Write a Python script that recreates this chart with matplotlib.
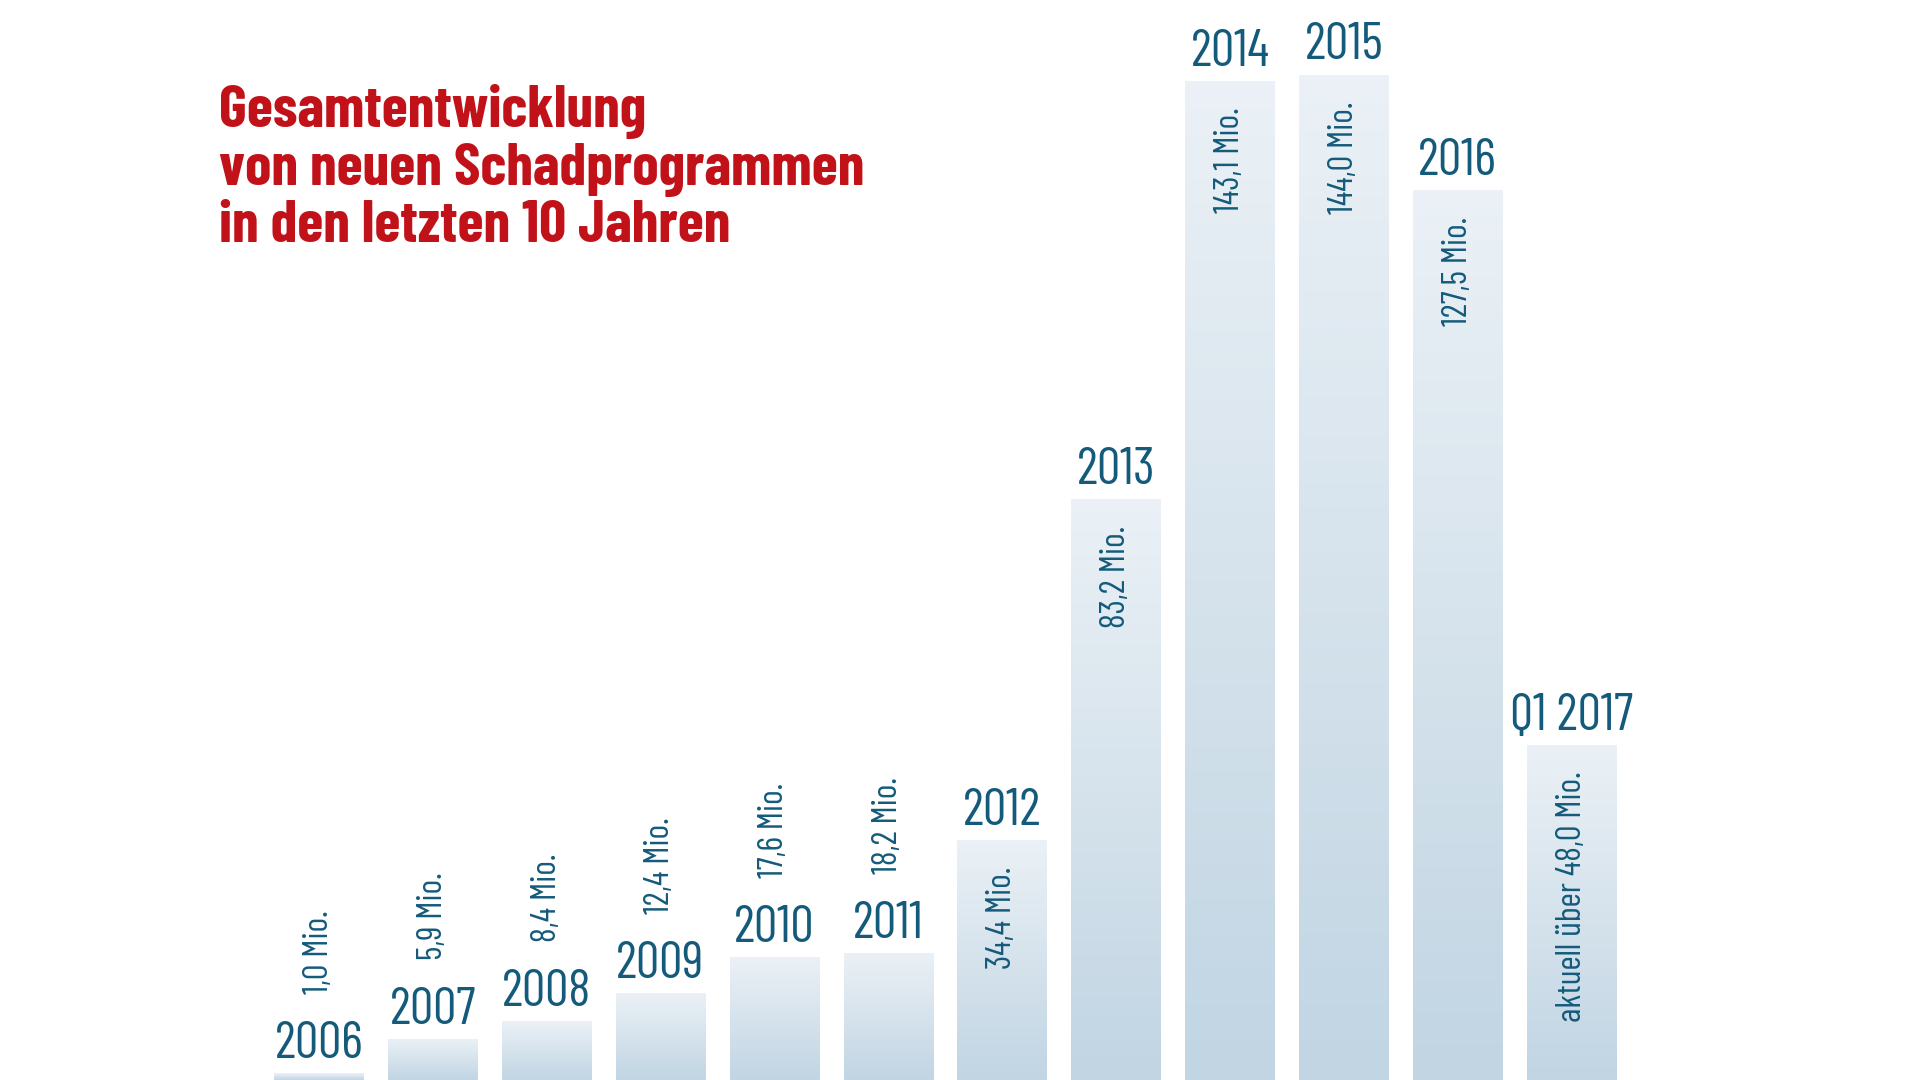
import numpy as np
import matplotlib
matplotlib.use('Agg')
import matplotlib.pyplot as plt
from matplotlib.colors import LinearSegmentedColormap

# Daten (Mio. neue Schadprogramme)
years = ['2006', '2007', '2008', '2009', '2010', '2011', '2012', '2013',
         '2014', '2015', '2016', 'Q1 2017']
values = [1.0, 5.9, 8.4, 12.4, 17.6, 18.2, 34.4, 83.2, 143.1, 144.0, 127.5, 48.0]
value_labels = ['1,0 Mio.', '5,9 Mio.', '8,4 Mio.', '12,4 Mio.', '17,6 Mio.',
                '18,2 Mio.', '34,4 Mio.', '83,2 Mio.', '143,1 Mio.', '144,0 Mio.',
                '127,5 Mio.', 'aktuell über 48,0 Mio.']
title_lines = ['Gesamtentwicklung', 'von neuen Schadprogrammen',
               'in den letzten 10 Jahren']

blue = '#145a7b'
red = '#c1121a'
plt.rcParams['font.family'] = ['Barlow Condensed', 'Roboto Condensed', 'DejaVu Sans']

fig = plt.figure(figsize=(19.2, 10.8), dpi=100)
ax = fig.add_axes([0, 0, 1, 1])
ax.axis('off')

# Verlauf fuer die Balken (oben hell, unten dunkler)
cmap = LinearSegmentedColormap.from_list('bar', ['#c1d5e3', '#ebf1f6'])
grad = np.linspace(0, 1, 256).reshape(-1, 1)

x = np.arange(len(years))
bars = ax.bar(x, values, width=0.785, color='none', edgecolor='none')
for b in bars:
    x0, y0 = b.get_x(), b.get_y()
    im = ax.imshow(grad, cmap=cmap, origin='lower', aspect='auto',
                   extent=(x0, x0 + b.get_width(), y0, y0 + b.get_height()),
                   interpolation='bicubic', zorder=1)
    im.set_clip_path(b)

for i, (yr, v, lab) in enumerate(zip(years, values, value_labels)):
    ax.annotate(yr, xy=(i, v), xytext=(0, 11), textcoords='offset points',
                ha='center', va='baseline', fontsize=37.5, color=blue)
    if v > 30:
        ax.annotate(lab, xy=(i, v), xytext=(0, -19), textcoords='offset points',
                    ha='center', va='top', rotation=90, fontsize=25, color=blue)
    else:
        ax.annotate(lab, xy=(i, v), xytext=(0, 57), textcoords='offset points',
                    ha='center', va='bottom', rotation=90, fontsize=25, color=blue)

ax.set_xlim(-2.80, 14.06)
ax.set_ylim(0, 154.7)

# Titel
for k, line in enumerate(title_lines):
    fig.text(219 / 1920, 1 - (127 + 57.5 * k) / 1080, line, ha='left',
             va='baseline', fontsize=43, fontweight='bold', color=red)

fig.savefig('out.png', dpi=100, facecolor='white')
